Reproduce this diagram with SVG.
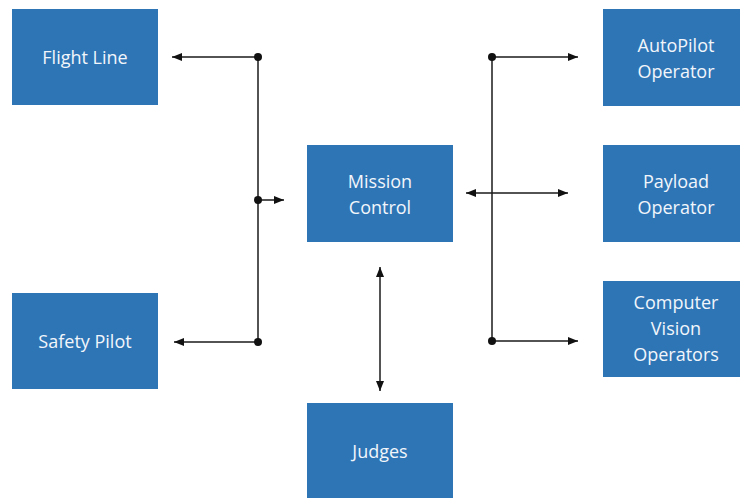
<svg xmlns="http://www.w3.org/2000/svg" width="740" height="498" viewBox="0 0 740 498">
  <style>
    .box { fill: #2E75B6; }
    .lbl { font-family: "Open Sans", "Liberation Sans", sans-serif; font-size: 18px; fill: #F2F6FB; text-anchor: middle; }
    .ln { stroke: #1a1a1a; stroke-width: 1.5; fill: none; }
    .dot { fill: #111; }
  </style>
  <defs>
    <marker id="ah" viewBox="0 0 10 8" refX="10" refY="4" markerWidth="10" markerHeight="8" markerUnits="userSpaceOnUse" orient="auto-start-reverse">
      <path d="M0,0 L10,4 L0,8 z" fill="#111"/>
    </marker>
  </defs>
  <rect width="740" height="498" fill="#ffffff"/>

  <g id="flight-line">
    <rect class="box" x="12" y="9" width="146" height="96"/>
    <text class="lbl" x="85" y="63.5">Flight Line</text>
  </g>
  <g id="safety-pilot">
    <rect class="box" x="12" y="293" width="146" height="96"/>
    <text class="lbl" x="85" y="347.5">Safety Pilot</text>
  </g>
  <g id="mission-control">
    <rect class="box" x="307" y="145" width="146" height="97"/>
    <text class="lbl" x="380" y="188">Mission</text>
    <text class="lbl" x="380" y="214">Control</text>
  </g>
  <g id="judges">
    <rect class="box" x="307" y="403" width="146" height="96"/>
    <text class="lbl" x="380" y="458">Judges</text>
  </g>
  <g id="autopilot-operator">
    <rect class="box" x="603" y="9" width="146" height="97"/>
    <text class="lbl" x="676" y="52">AutoPilot</text>
    <text class="lbl" x="676" y="77.5">Operator</text>
  </g>
  <g id="payload-operator">
    <rect class="box" x="603" y="145" width="146" height="97"/>
    <text class="lbl" x="676" y="188">Payload</text>
    <text class="lbl" x="676" y="214">Operator</text>
  </g>
  <g id="computer-vision-operators">
    <rect class="box" x="603" y="281" width="146" height="96"/>
    <text class="lbl" x="676" y="309">Computer</text>
    <text class="lbl" x="676" y="335">Vision</text>
    <text class="lbl" x="676" y="361">Operators</text>
  </g>

  <g id="connectors">
    <line class="ln" x1="258" y1="57" x2="258" y2="342"/>
    <line class="ln" x1="258" y1="57" x2="172" y2="57" marker-end="url(#ah)"/>
    <line class="ln" x1="258" y1="342" x2="174" y2="342" marker-end="url(#ah)"/>
    <line class="ln" x1="258" y1="200" x2="284" y2="200" marker-end="url(#ah)"/>
    <circle class="dot" cx="258" cy="57" r="4"/>
    <circle class="dot" cx="258" cy="200" r="4"/>
    <circle class="dot" cx="258" cy="342" r="4"/>

    <line class="ln" x1="492" y1="57" x2="492" y2="341"/>
    <line class="ln" x1="492" y1="57" x2="578" y2="57" marker-end="url(#ah)"/>
    <line class="ln" x1="492" y1="341" x2="578" y2="341" marker-end="url(#ah)"/>
    <circle class="dot" cx="492" cy="57" r="4"/>
    <circle class="dot" cx="492" cy="341" r="4"/>

    <line class="ln" x1="466" y1="193" x2="568" y2="193" marker-start="url(#ah)" marker-end="url(#ah)"/>
    <line class="ln" x1="380" y1="267" x2="380" y2="391" marker-start="url(#ah)" marker-end="url(#ah)"/>
  </g>
</svg>
